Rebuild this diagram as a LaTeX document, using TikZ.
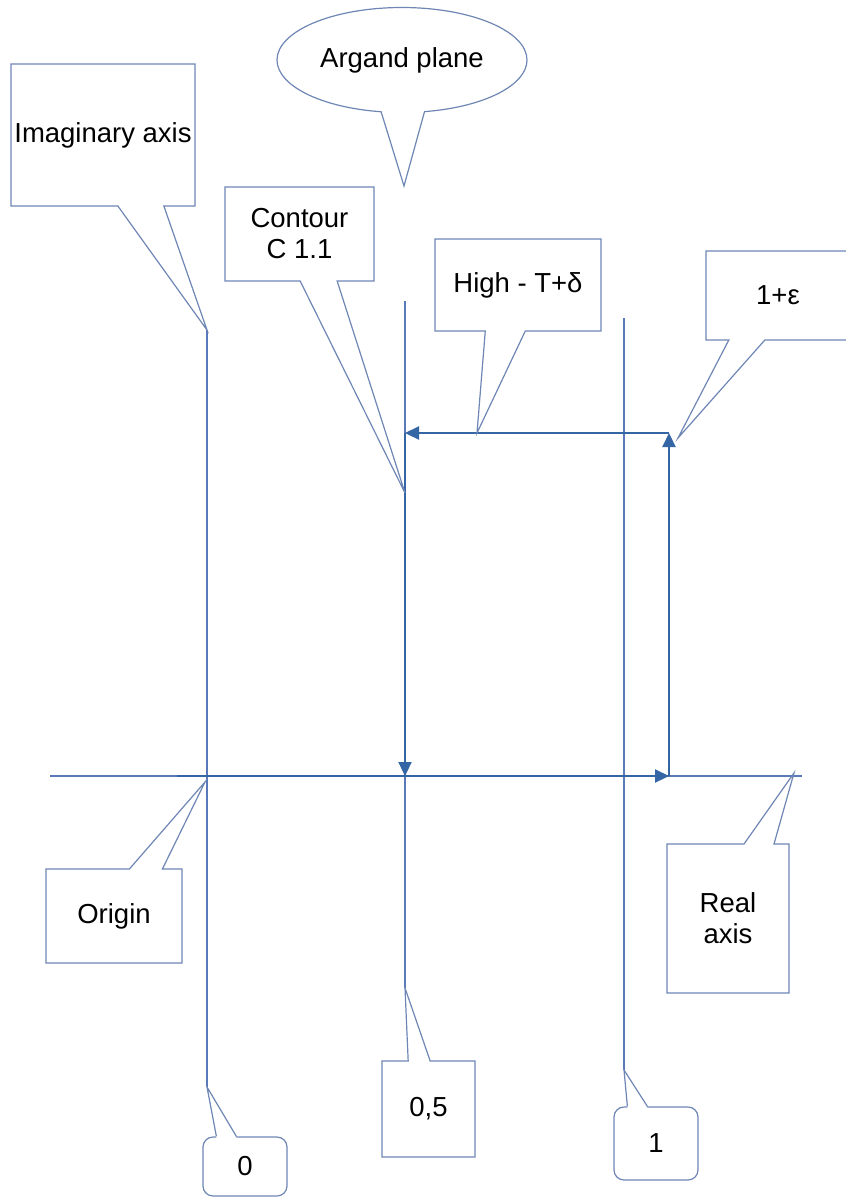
\documentclass[tikz,border=0pt]{standalone}
\usepackage{fontspec}
\setmainfont{Liberation Sans}
\usetikzlibrary{shapes.callouts,arrows.meta,calc}
\definecolor{axisblue}{RGB}{88,122,184}
\definecolor{pathblue}{RGB}{52,101,164}
\definecolor{notegrey}{RGB}{110,134,180}

\begin{document}
\begin{tikzpicture}[%
    x=1pt, y=-1pt,
    >={Triangle[length=14pt,width=13pt]},
    every node/.style={font=\fontsize{27.5}{31}\selectfont, align=center, inner sep=0pt},
    note/.style={rectangle callout, draw=notegrey, line width=1.2pt},
    tick/.style={rectangle, draw=notegrey, line width=1.2pt, rounded corners=10pt},
    tail/.style={draw=notegrey, line width=1.2pt},
    bubble/.style={ellipse callout, draw=notegrey, line width=1.2pt, callout pointer arc=20},
    axis/.style={draw=axisblue, line width=1.1pt},
    contour/.style={draw=pathblue, line width=2.2pt}
  ]
    \useasboundingbox (0,0) rectangle (846,1197);

    % axes and the two lines at 0,5 and 1
    \coordinate (realL) at (50,776);
    \coordinate (realR) at (802,776);
    \coordinate (imT) at (207,330);
    \coordinate (imB) at (207,1087);
    \coordinate (halfT) at (405,301);
    \coordinate (halfB) at (405,988);
    \coordinate (oneT) at (624,318);
    \coordinate (oneB) at (624,1070);

    \draw[axis] (realL) -- (realR);
    \draw[axis] (imT) -- (imB);
    \draw[axis] (halfT) -- (halfB);
    \draw[axis] (oneT) -- (oneB);

    % the contour
    \coordinate (A) at (177,776);
    \coordinate (B) at (669,776);
    \coordinate (C) at (669,433);
    \coordinate (D) at (405,433);
    \coordinate (E) at (405,776);

    \draw[contour,->] (A) -- (B);
    \draw[contour,->] (B) -- (C);
    \draw[contour,->] (C) -- (D);
    \draw[contour,->] (D) -- (E);

    % tips of the callouts
    \coordinate (planeTip) at (404,186);
    \coordinate (contourTip) at (405,493);
    \coordinate (highTip) at (477,433);
    \coordinate (epsTip) at (678,438);
    \coordinate (originTip) at (205,782);
    \coordinate (realTip) at (794,773);

    \node[bubble, minimum width=250pt, minimum height=105pt,
          callout absolute pointer=(planeTip)] (plane) at (402,60) {Argand plane};
    \node[note, minimum width=184pt, minimum height=142pt,
          callout absolute pointer=(imT), callout pointer width=46pt] (imag) at (103,135) {Imaginary axis};
    \node[note, minimum width=149pt, minimum height=94pt,
          callout absolute pointer=(contourTip), callout pointer width=37pt] (contourNote) at (299.5,234) {Contour\\C 1.1};
    \node[note, minimum width=166pt, minimum height=92pt,
          callout absolute pointer=(highTip), callout pointer width=40pt] (high) at (518,285) {High - T+δ};
    \node[note, minimum width=144pt, minimum height=89pt,
          callout absolute pointer=(epsTip), callout pointer width=36pt] (eps) at (778,295.5) {1+ε};
    \node[note, minimum width=136pt, minimum height=94pt,
          callout absolute pointer=(originTip), callout pointer width=33pt] (origin) at (114,916) {Origin};
    \node[note, minimum width=122pt, minimum height=149pt,
          callout absolute pointer=(realTip), callout pointer width=30pt] (real) at (728,918.5) {Real\\axis};
    \node[note, minimum width=93pt, minimum height=96pt,
          callout absolute pointer=(halfB), callout pointer width=22pt] (half) at (428.5,1109) {0,5};

    % rounded boxes under 0 and 1
    \node[tick, minimum width=84pt, minimum height=59pt] (zero) at (245,1166.5) {0};
    \node[tick, minimum width=84pt, minimum height=73pt] (one) at (656,1143.5) {1};

    \fill[white] ($(zero.north west)+(14,1.5)$) -- (imB) -- ($(zero.north west)+(34,1.5)$) -- cycle;
    \draw[tail] ($(zero.north west)+(14,0)$) -- (imB) -- ($(zero.north west)+(34,0)$);
    \fill[white] ($(one.north west)+(14,1.5)$) -- (oneB) -- ($(one.north west)+(34,1.5)$) -- cycle;
    \draw[tail] ($(one.north west)+(14,0)$) -- (oneB) -- ($(one.north west)+(34,0)$);
  \end{tikzpicture}
\end{document}
